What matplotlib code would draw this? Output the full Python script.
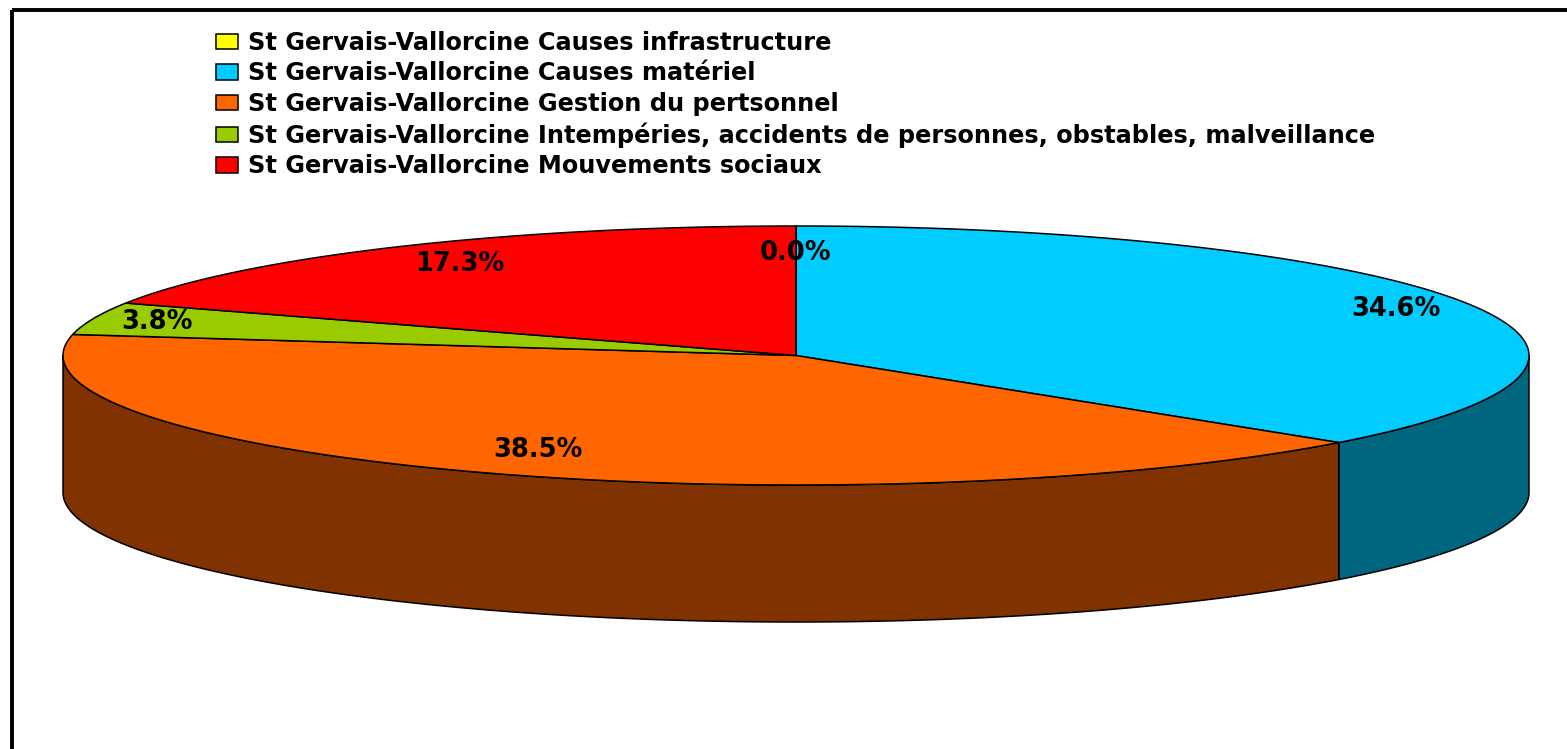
import numpy as np
import matplotlib.pyplot as plt
from matplotlib.patches import Polygon, Rectangle, Patch

# ===== data =====
categories = [
    "St Gervais-Vallorcine Causes infrastructure",
    "St Gervais-Vallorcine Causes matériel",
    "St Gervais-Vallorcine Gestion du pertsonnel",
    "St Gervais-Vallorcine Intempéries, accidents de personnes, obstables, malveillance",
    "St Gervais-Vallorcine Mouvements sociaux",
]
values = [0.0, 34.6, 38.5, 3.8, 17.3]
top_colors = ["#FFFF00", "#00CCFF", "#FF6600", "#99CC00", "#FF0000"]
side_colors = ["#808000", "#006680", "#803300", "#4D6600", "#800000"]

# layout (pixels)
W, H = 1567, 749
cx, cy = 796, 355.5
rx, ry = 733, 129.5
depth = 137
label_r = [0.79, 0.895, 0.81, 0.91, 0.84]


def arc(t0, t1, dy=0, n=200):
    t = np.radians(np.linspace(t0, t1, n))
    return np.column_stack([cx + rx * np.cos(t), cy - ry * np.sin(t) + dy])


fig = plt.figure(figsize=(W / 100, H / 100), dpi=100)
ax = fig.add_axes([0, 0, 1, 1])
ax.set_xlim(0, W)
ax.set_ylim(H, 0)
ax.axis("off")

# outer frame
ax.add_patch(Rectangle((12, 10), W + 50, H + 50, fill=False, lw=2.8, ec="black"))

fracs = np.array(values) / sum(values)
ends = 90 - np.cumsum(fracs) * 360
starts = np.concatenate([[90], ends[:-1]])

# side walls (only the front half is visible)
for s, e, c in zip(starts, ends, side_colors):
    a = max(e, -180)
    b = min(s, 0)
    if b - a <= 0:
        continue
    pts = np.vstack([arc(b, a), arc(a, b, dy=depth)])
    ax.add_patch(Polygon(pts, closed=True, fc=c, ec="black", lw=1.1))

# top face
for s, e, c in zip(starts, ends, top_colors):
    if s - e <= 0:
        continue
    pts = np.vstack([[cx, cy], arc(s, e)])
    ax.add_patch(Polygon(pts, closed=True, fc=c, ec="black", lw=1.1))

# percentage labels
for s, e, v, r in zip(starts, ends, values, label_r):
    m = np.radians((s + e) / 2)
    ax.text(cx + r * rx * np.cos(m), cy - r * ry * np.sin(m), f"{v:.1f}%",
            ha="center", va="center", fontsize=18.5, fontweight="bold",
            family="DejaVu Sans")

handles = [Patch(fc=c, ec="black", lw=1.1) for c in top_colors]
fig.legend(handles, categories, loc="upper left",
           bbox_to_anchor=(216 / W, 1 - 31 / H), frameon=False,
           borderpad=0, borderaxespad=0, handlelength=0.92, handleheight=0.6,
           handletextpad=0.42, labelspacing=0.27,
           prop={"family": "DejaVu Sans", "weight": "bold", "size": 17.3})

plt.savefig("out.png", dpi=100)
